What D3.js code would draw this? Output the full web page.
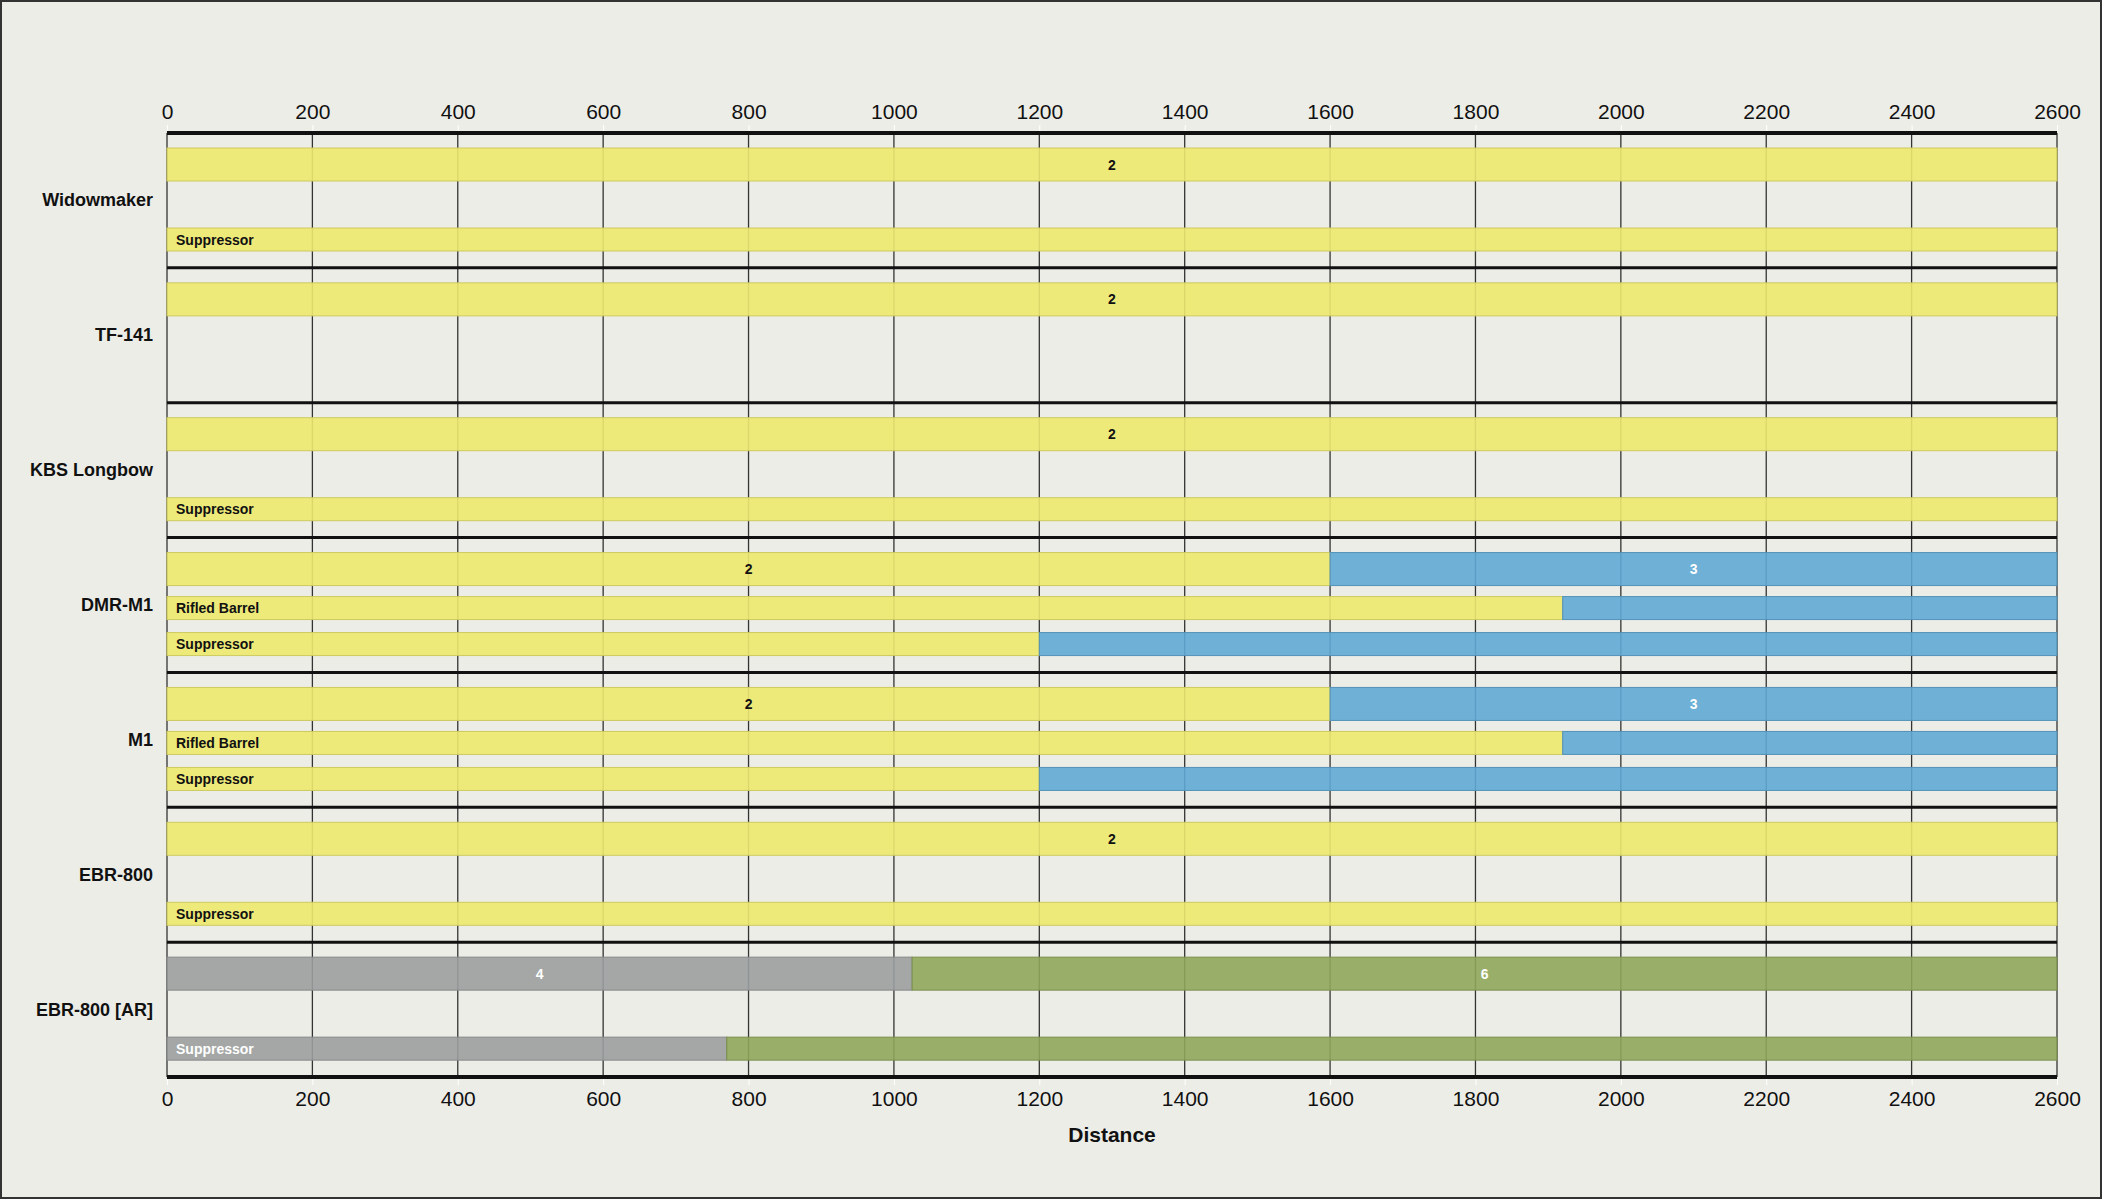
<!DOCTYPE html>
<html>
<head>
<meta charset="utf-8">
<script src="https://cdn.jsdelivr.net/npm/d3@7"></script>
<style>
  body { margin: 0; background: #ededE8; }
  svg { display: block; font-family: "Liberation Sans", Arial, sans-serif; }
</style>
</head>
<body>
<script>
// weapons, top to bottom
const weapons = ['Widowmaker', 'TF-141', 'KBS Longbow', 'DMR-M1', 'M1', 'EBR-800', 'EBR-800 [AR]'];
// rows per weapon: [row name, [[hits, end distance], ...]]
const rows = [
  [['', [[2, 2600]]], ['Suppressor', [[2, 2600]]]],
  [['', [[2, 2600]]]],
  [['', [[2, 2600]]], ['Suppressor', [[2, 2600]]]],
  [['', [[2, 1600], [3, 2600]]], ['Rifled Barrel', [[2, 1920], [3, 2600]]], ['Suppressor', [[2, 1200], [3, 2600]]]],
  [['', [[2, 1600], [3, 2600]]], ['Rifled Barrel', [[2, 1920], [3, 2600]]], ['Suppressor', [[2, 1200], [3, 2600]]]],
  [['', [[2, 2600]]], ['Suppressor', [[2, 2600]]]],
  [['', [[4, 1025], [6, 2600]]], ['Suppressor', [[4, 770], [6, 2600]]]]
];
const ticks = d3.range(0, 2601, 200);
const colors = {2: '#ede96e', 3: '#5fa8d4', 4: '#9b9e9e', 6: '#8fa65a'};
const textColors = {2: '#111', 3: '#fff', 4: '#fff', 6: '#fff'};

const W = 2102, H = 1199;
const mLeft = 167, mRight = 2057, mTop = 133, mBottom = 1077;
const svg = d3.select('body').append('svg').attr('width', W).attr('height', H);
svg.append('rect').attr('x', 1).attr('y', 1).attr('width', W - 2).attr('height', H - 2)
  .attr('fill', '#ededE8').attr('stroke', '#333').attr('stroke-width', 2);

const x = d3.scaleLinear().domain([0, 2600]).range([mLeft, mRight]);
const y = d3.scaleBand().domain(weapons).range([mTop, mBottom]);
const gh = y.bandwidth();

// row slots within a group: main, rifled barrel, suppressor
const slot = name => name === '' ? [15, 33] : name === 'Rifled Barrel' ? [59, 23] : [95, 23];

// grid
svg.append('g').selectAll('line').data(ticks).enter().append('line')
  .attr('x1', d => x(d)).attr('x2', d => x(d)).attr('y1', mTop).attr('y2', mBottom)
  .attr('stroke', '#333').attr('stroke-width', 1.3);

// bars
weapons.forEach((w, i) => {
  const g = svg.append('g').attr('transform', `translate(0,${y(w)})`);
  rows[i].forEach(([name, segs]) => {
    const [oy, h] = slot(name);
    let start = 0;
    segs.forEach(([lvl, end]) => {
      g.append('rect').attr('x', x(start)).attr('y', oy).attr('width', x(end) - x(start)).attr('height', h)
        .attr('fill', colors[lvl]).attr('fill-opacity', 0.9)
        .attr('stroke', d3.color(colors[lvl]).darker(0.4)).attr('stroke-width', 1);
      if (name === '') {
        g.append('text').attr('x', (x(start) + x(end)) / 2).attr('y', oy + h / 2 + 5)
          .attr('text-anchor', 'middle').attr('font-size', 14).attr('font-weight', 'bold')
          .attr('fill', textColors[lvl]).text(lvl);
      }
      start = end;
    });
    if (name !== '') {
      g.append('text').attr('x', x(0) + 9).attr('y', oy + h / 2 + 5)
        .attr('font-size', 14).attr('font-weight', 'bold')
        .attr('fill', textColors[segs[0][0]]).text(name);
    }
  });
  g.append('text').attr('x', 153).attr('y', gh / 2 + 6).attr('text-anchor', 'end')
    .attr('font-size', 18).attr('font-weight', 'bold').attr('fill', '#111').text(w);
});

// group separators
svg.append('g').selectAll('line').data(d3.range(weapons.length + 1)).enter().append('line')
  .attr('x1', mLeft).attr('x2', mRight)
  .attr('y1', d => mTop + d * gh).attr('y2', d => mTop + d * gh)
  .attr('stroke', '#111').attr('stroke-width', d => (d === 0 || d === weapons.length) ? 4 : 3);

// axes
const styleAxis = g => {
  g.select('.domain').remove();
  g.selectAll('.tick line').attr('stroke', '#fff');
  g.selectAll('.tick text').attr('font-size', 21).attr('fill', '#111');
};
svg.append('g').attr('transform', `translate(0,${mTop - 2})`)
  .call(d3.axisTop(x).tickValues(ticks).tickSize(6).tickPadding(6).tickFormat(d3.format('d'))).call(styleAxis);
svg.append('g').attr('transform', `translate(0,${mBottom + 2})`)
  .call(d3.axisBottom(x).tickValues(ticks).tickSize(6).tickPadding(6).tickFormat(d3.format('d'))).call(styleAxis);

svg.append('text').attr('x', (mLeft + mRight) / 2).attr('y', 1142).attr('text-anchor', 'middle')
  .attr('font-size', 21).attr('font-weight', 'bold').attr('fill', '#111').text('Distance');
</script>
</body>
</html>
